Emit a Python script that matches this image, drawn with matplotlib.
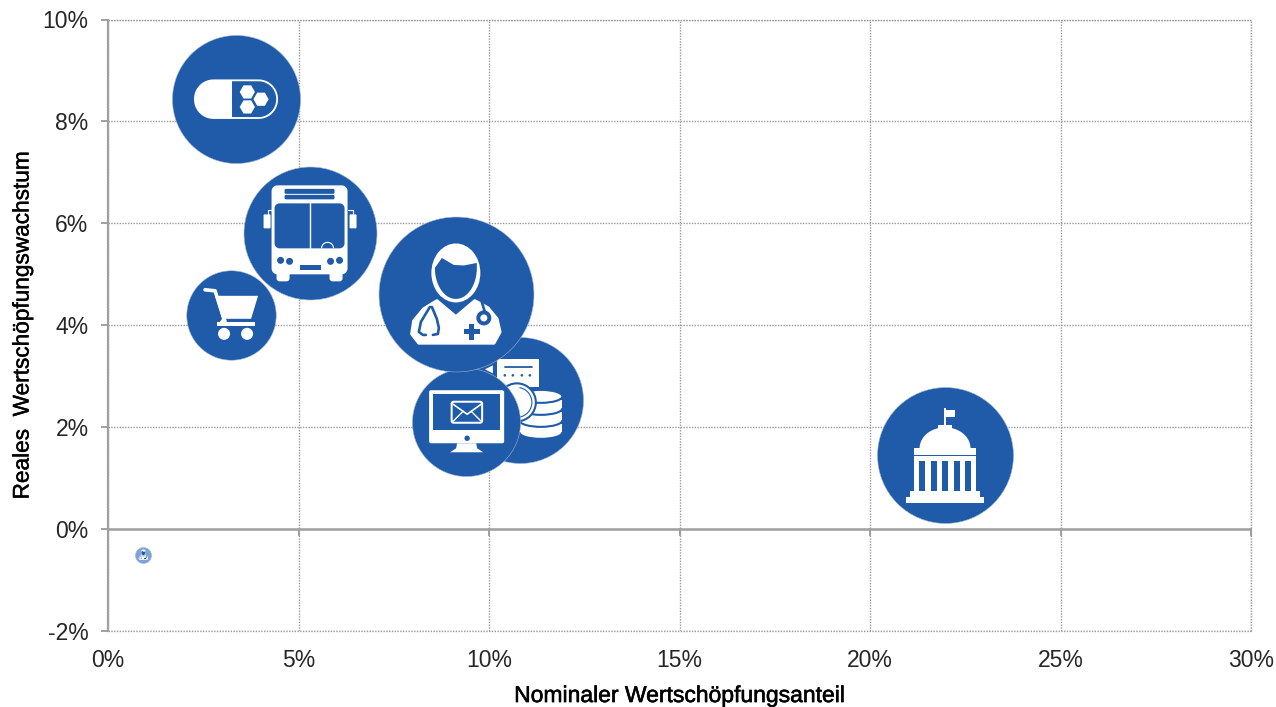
import numpy as np
import matplotlib
matplotlib.use("Agg")
from matplotlib import pyplot as plt
from matplotlib import patheffects
from matplotlib.patches import Circle, Ellipse, Polygon, Rectangle, RegularPolygon, Arc
from matplotlib.lines import Line2D
from matplotlib.transforms import Affine2D, ScaledTranslation

# nominal share, real growth, bubble size
sectors = ["pharma", "transport", "retail", "health", "finance", "ict", "public", "other"]
share = [3.36, 5.29, 3.23, 9.13, 10.81, 9.40, 21.97, 0.93]
growth = [8.44, 5.80, 4.20, 4.61, 2.52, 2.09, 1.44, -0.51]
size = [4.10, 4.42, 2.00, 6.00, 3.97, 2.92, 4.62, 0.064]
x_ticks = [0, 5, 10, 15, 20, 25, 30]
y_ticks = [-2, 0, 2, 4, 6, 8, 10]

BLUE = "#1f5ba8"
WHITE = "#ffffff"
GREY = "#a0a0a0"
DOT = "#9a9a9a"
DOTTED = (0, (1, 1))

W, H = 1276, 707
fig = plt.figure(figsize=(W / 100, H / 100), dpi=100)
ax = fig.add_axes([108 / W, 1 - 630.5 / H, 1143 / W, 611 / H])
ax.set_xlim(0, 30)
ax.set_ylim(-2, 10)
ax.set_xticks(x_ticks)
ax.set_yticks(y_ticks)
ax.set_xticklabels([f"{t}%" for t in x_ticks], family="Liberation Sans", fontsize=16.5, color="#262626")
ax.set_yticklabels([f"{t}%" for t in y_ticks], family="Liberation Sans", fontsize=16.5, color="#262626")
ax.grid(True, color=DOT, linestyle=DOTTED, linewidth=1.0)
ax.set_axisbelow(True)
for name in ["top", "right", "bottom"]:
	ax.spines[name].set_visible(False)
ax.spines["left"].set_color(GREY)
ax.spines["left"].set_linewidth(1.6)
ax.axhline(0, color=GREY, linewidth=1.8, zorder=1)
ax.tick_params(axis="y", length=5, width=1.4, color=GREY, pad=9)
ax.tick_params(axis="x", length=0, pad=13)
# x ticks hang off the zero line, not off the bottom of the plot
for t in x_ticks:
	ax.plot([t, t], [-0.12, 0.0], color=GREY, linewidth=1.4, zorder=1, clip_on=False)
ax.plot([0, 30], [-2, -2], color=DOT, linestyle=DOTTED, linewidth=1.0, zorder=1, clip_on=False)
ax.plot([0, 30], [10, 10], color=DOT, linestyle=DOTTED, linewidth=1.0, zorder=1, clip_on=False)
ax.plot([30, 30], [-2, 10], color=DOT, linestyle=DOTTED, linewidth=1.0, zorder=1, clip_on=False)

xlab = ax.set_xlabel("Nominaler Wertschöpfungsanteil", family="Liberation Sans", fontsize=16.5, labelpad=9)
ylab = ax.set_ylabel("Reales  Wertschöpfungswachstum", family="Liberation Sans", fontsize=16.3, labelpad=6.5)
xlab.set_path_effects([patheffects.withStroke(linewidth=0.4, foreground="black")])
ylab.set_path_effects([patheffects.withStroke(linewidth=0.3, foreground="black")])

icon_scale = 1.0


def add(z, t, patch):
	patch.set_transform(t)
	patch.set_zorder(z)
	patch.set_clip_on(False)
	patch.set_linewidth(patch.get_linewidth() * icon_scale)
	ax.add_artist(patch)


def box(x0, y0, x1, y1, r, color):
	# rounded rectangle with true circular corners
	pts = []
	corners = [(x1 - r, y1 - r, 0), (x0 + r, y1 - r, 90), (x0 + r, y0 + r, 180), (x1 - r, y0 + r, 270)]
	for cx, cy, start in corners:
		a = np.radians(np.linspace(start, start + 90, 12))
		pts += list(zip(cx + r * np.cos(a), cy + r * np.sin(a)))
	return Polygon(pts, closed=True, facecolor=color, edgecolor="none")


def poly(points, color):
	return Polygon(points, closed=True, facecolor=color, edgecolor="none")


def soft(points, color):
	# polygon with its corners rounded off by a thick round-joined edge
	return Polygon(points, closed=True, facecolor=color, edgecolor=color, linewidth=2.5, joinstyle="round")


def line(points, color, width):
	p = np.array(points)
	return Line2D(p[:, 0], p[:, 1], color=color, linewidth=width, solid_capstyle="round", solid_joinstyle="round")


def disc(x, y, r, color):
	return Circle((x, y), r, facecolor=color, edgecolor="none")


def pill(z, t):
	add(z, t, box(-42, -19.5, 42, 20, 19.5, WHITE))
	a = np.linspace(-np.pi / 2, np.pi / 2, 30)
	pts = [(-4, -17.7)] + list(zip(22.5 + 17.7 * np.cos(a), 0.25 + 17.9 * np.sin(a))) + [(-4, 18.1)]
	add(z, t, poly(pts, BLUE))
	for cx, cy in [(11.3, -7), (25, 0.3), (11.3, 8)]:
		add(z, t, RegularPolygon((cx, cy), 6, radius=7.6, orientation=np.pi / 6, facecolor=WHITE, edgecolor="none"))


def bus(z, t):
	add(z, t, box(-38, -48, 38, 41, 6, WHITE))
	add(z, t, box(-33, 30, -20, 48, 3, WHITE))
	add(z, t, box(20, 30, 33, 48, 3, WHITE))
	add(z, t, box(-25, -44.5, 25, -39.5, 1.5, BLUE))
	add(z, t, box(-25, -38.5, 25, -34, 1.5, BLUE))
	add(z, t, box(-35, -30, 35, 15, 5, BLUE))
	add(z, t, line([(0, -30), (0, 16)], WHITE, 1.0))
	add(z, t, Arc((18, 15), 12, 12, theta1=180, theta2=360, edgecolor=WHITE, linewidth=0.8))
	for cx, cy in [(-29, 27), (-20, 28), (21, 28), (30, 27)]:
		add(z, t, disc(cx, cy, 3.5, BLUE))
	add(z, t, Rectangle((-10, 32), 21, 5, facecolor=BLUE, edgecolor="none"))
	add(z, t, box(-46, -19, -39, -5, 1, WHITE))
	add(z, t, box(40, -19, 47, -5, 1, WHITE))
	add(z, t, line([(-42, -19), (-42, -23), (-38, -23)], WHITE, 0.8))
	add(z, t, line([(43, -19), (43, -23), (38, -23)], WHITE, 0.8))


def cart(z, t):
	add(z, t, line([(-26, -25), (-16, -24), (-6, 7)], WHITE, 2.6))
	add(z, t, poly([(-16, -19), (27, -19), (20, 4), (-9, 4)], WHITE))
	add(z, t, poly([(-9, 4), (-6, 4), (-9, 11), (-14, 11)], WHITE))
	add(z, t, Rectangle((-14, 7.5), 38, 3.5, facecolor=WHITE, edgecolor="none"))
	add(z, t, disc(-7, 19, 6, WHITE))
	add(z, t, disc(16, 19, 6, WHITE))


def doctor(z, t):
	add(z, t, Ellipse((0, -21), 49, 59, facecolor=WHITE, edgecolor="none"))
	a = np.linspace(np.pi, 0, 40)
	face = [(21, -26), (21, -31), (8, -28.5), (-2, -29), (-14, -36), (-21, -26)]
	face += list(zip(21 * np.cos(a), -26 + 31 * np.sin(a)))
	add(z, t, poly(face, BLUE))
	body = [(-19, 7), (0, 23), (19, 7), (32, 14), (41, 25), (44, 38), (38, 49), (-37, 49), (-44, 40), (-42, 27), (-32, 15)]
	add(z, t, soft(body, WHITE))
	add(z, t, line([(-26, 13), (-35, 28), (-37, 38), (-33, 41), (-30, 41)], BLUE, 1.9))
	add(z, t, line([(-24, 13), (-19, 25), (-17, 34), (-18, 40), (-23, 41)], BLUE, 1.9))
	add(z, t, line([(26, 8), (29, 18)], BLUE, 1.9))
	add(z, t, disc(28, 24, 7.5, BLUE))
	add(z, t, disc(28, 24, 3.5, WHITE))
	add(z, t, Rectangle((8, 35.5), 16, 5, facecolor=BLUE, edgecolor="none"))
	add(z, t, Rectangle((13.5, 30), 5, 16, facecolor=BLUE, edgecolor="none"))


def coins(z, t):
	add(z, t, poly([(-23, -41), (19, -41), (19, -13), (-23, -13)], WHITE))
	add(z, t, poly([(-35, -31), (-27, -35), (-27, -27)], WHITE))
	add(z, t, line([(-15, -33), (12, -33)], BLUE, 1.3))
	for dx in [-15, -7, 2, 10]:
		add(z, t, disc(dx, -25, 1.3, BLUE))
	for dy in [32, 20, 8, -4]:
		add(z, t, Ellipse((21, dy), 43, 13, facecolor=WHITE, edgecolor=BLUE, linewidth=1.5))
		if dy != -4:
			add(z, t, Rectangle((-0.5, dy - 8), 43, 8, facecolor=WHITE, edgecolor="none"))
	add(z, t, Circle((-3, 2), 19, facecolor=WHITE, edgecolor=BLUE, linewidth=1.5))
	add(z, t, Arc((-3, 2), 30, 30, theta1=-80, theta2=80, edgecolor=BLUE, linewidth=0.8))


def monitor(z, t):
	add(z, t, box(-37, -32, 38, 21, 2, WHITE))
	add(z, t, Rectangle((-33, -28), 67, 36, facecolor=BLUE, edgecolor="none"))
	add(z, t, box(-15.5, -21.5, 17, 1.5, 3, WHITE))
	add(z, t, box(-13.5, -19.5, 15, -0.5, 1.5, BLUE))
	add(z, t, line([(-13, -18), (1, -8), (15, -18)], WHITE, 1.2))
	add(z, t, line([(-13, -1), (-3, -11)], WHITE, 1.0))
	add(z, t, line([(15, -1), (5, -11)], WHITE, 1.0))
	add(z, t, disc(1, 16, 2.7, BLUE))
	add(z, t, poly([(-9, 21), (10, 21), (11, 26), (17, 30), (-16, 30), (-10, 26)], WHITE))


def government(z, t):
	add(z, t, Rectangle((-39, 42), 78, 5.5, facecolor=WHITE, edgecolor="none"))
	add(z, t, Rectangle((-35, 36), 70, 6, facecolor=WHITE, edgecolor="none"))
	add(z, t, Rectangle((-31, -7), 62, 43, facecolor=WHITE, edgecolor="none"))
	add(z, t, Rectangle((-31, -0.8), 62, 1.4, facecolor=BLUE, edgecolor="none"))
	for dx in [-26, -14.5, -3, 8.5, 20]:
		add(z, t, Rectangle((dx, 6), 6, 30, facecolor=BLUE, edgecolor="none"))
	a = np.linspace(np.pi, 2 * np.pi, 40)
	add(z, t, poly(list(zip(25.5 * np.cos(a), -7 + 21 * np.sin(a))), WHITE))
	add(z, t, Rectangle((-7, -30), 14, 5, facecolor=WHITE, edgecolor="none"))
	add(z, t, Rectangle((-0.8, -47), 1.6, 18, facecolor=WHITE, edgecolor="none"))
	add(z, t, poly([(1, -45), (10, -45), (10, -38), (1, -38)], WHITE))


icons = {"pharma": (pill, 64), "transport": (bus, 66.5), "retail": (cart, 44.7), "health": (doctor, 77.5),
	"finance": (coins, 63), "ict": (monitor, 54), "public": (government, 68), "other": (doctor, 77.5)}

# draw order from the picture: later sectors sit on top
order = ["pharma", "transport", "retail", "finance", "ict", "health", "public", "other"]
for i, name in enumerate(order):
	k = sectors.index(name)
	color = "#7ea3d6" if name == "other" else BLUE
	z = 3 + 2 * i
	ax.scatter([share[k]], [growth[k]], s=size[k] * 2074, color=color, edgecolors="#9fb5d3", linewidths=0.4, zorder=z, clip_on=False)
	draw, base_r = icons[name]
	icon_scale = np.sqrt(size[k] * 1000) / base_r
	t = Affine2D().scale(icon_scale, -icon_scale) + ScaledTranslation(share[k], growth[k], ax.transData)
	draw(z + 1, t)

fig.savefig("out.png", dpi=100)
